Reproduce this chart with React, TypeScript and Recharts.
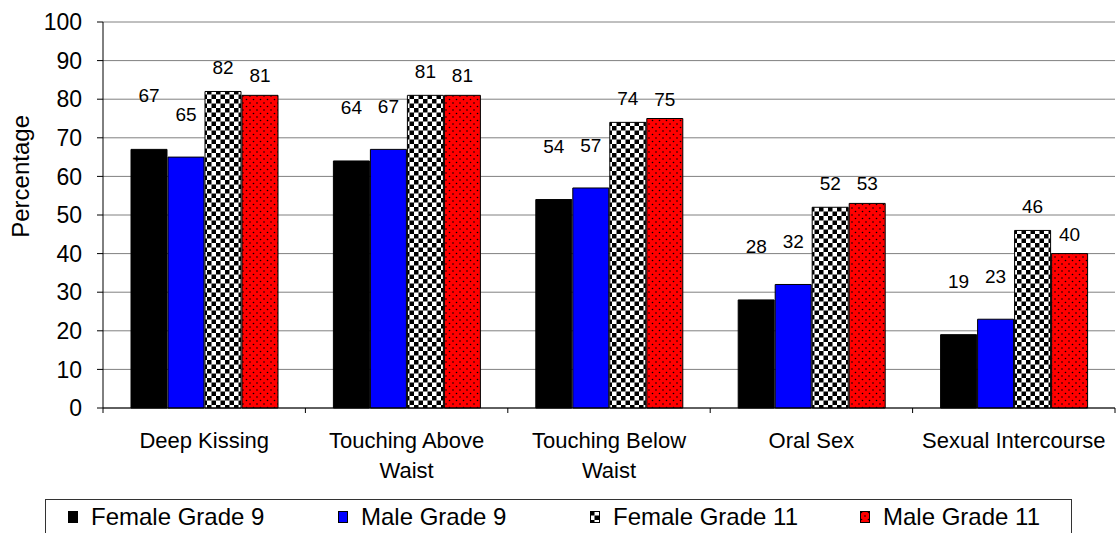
import { BarChart, Bar, XAxis, YAxis, CartesianGrid, LabelList } from "recharts";

const categories = [
  "Deep Kissing",
  "Touching Above Waist",
  "Touching Below Waist",
  "Oral Sex",
  "Sexual Intercourse",
];
const femaleGrade9 = [67, 64, 54, 28, 19];
const maleGrade9 = [65, 67, 57, 32, 23];
const femaleGrade11 = [82, 81, 74, 52, 46];
const maleGrade11 = [81, 81, 75, 53, 40];
const yTicks = [0, 10, 20, 30, 40, 50, 60, 70, 80, 90, 100];

const data = categories.map((name, i) => ({
  name,
  f9: femaleGrade9[i],
  m9: maleGrade9[i],
  f11: femaleGrade11[i],
  m11: maleGrade11[i],
}));

// labelGap: how far above the bar the value label sits (Excel placed them unevenly)
const series = [
  { key: "f9", name: "Female Grade 9", fill: "#000000", labelGap: 47 },
  { key: "m9", name: "Male Grade 9", fill: "#0000ff", labelGap: 36 },
  { key: "f11", name: "Female Grade 11", fill: "url(#checker)", labelGap: 17 },
  { key: "m11", name: "Male Grade 11", fill: "url(#reddots)", labelGap: 13 },
];

const FONT = "'Liberation Sans', Arial, sans-serif";
const legendWidths = [270, 252, 270, 200];

// split long category names onto two lines like Excel does
function wrapLabel(text: string) {
  if (text.length <= 18) return [text];
  const words = text.split(" ");
  const last = words.pop() as string;
  return [words.join(" "), last];
}

function CategoryTick(props: any) {
  const { x, y, payload, index, visibleTicksCount } = props;
  const half = payload.offset || 101.2;
  const lines = wrapLabel(String(payload.value));
  return (
    <g>
      <line x1={x - half} x2={x - half} y1={y} y2={y + 5} stroke="#000" />
      {index === visibleTicksCount - 1 && (
        <line x1={x + half} x2={x + half} y1={y} y2={y + 5} stroke="#000" />
      )}
      {lines.map((l, i) => (
        <text
          key={i}
          x={x}
          y={y + 40 + i * 30}
          textAnchor="middle"
          fontSize={22}
          fill="#000"
          fontFamily={FONT}
        >
          {l}
        </text>
      ))}
    </g>
  );
}

function PercentLabel(props: any) {
  const vb = props.viewBox || { x: 0, y: 22, height: 386 };
  const cx = vb.x + 21;
  const cy = vb.y + vb.height * 0.4;
  return (
    <text
      x={cx}
      y={cy}
      transform={`rotate(-90 ${cx} ${cy})`}
      textAnchor="middle"
      dominantBaseline="central"
      fontSize={24}
      fill="#000"
      fontFamily={FONT}
    >
      Percentage
    </text>
  );
}

function Swatch({ fill }: { fill: string }) {
  return (
    <svg width={10} height={12} style={{ display: "block" }}>
      <rect x={0.5} y={0.5} width={9} height={11} fill={fill} stroke="#000" />
    </svg>
  );
}

export default function App() {
  return (
    <div
      style={{
        position: "absolute",
        left: 0,
        top: 0,
        width: 1117,
        height: 533,
        overflow: "hidden",
        background: "#fff",
        fontFamily: FONT,
      }}
    >
      <BarChart
        width={1117}
        height={533}
        data={data}
        margin={{ top: 22, right: 2, left: 0, bottom: 45 }}
        barSize={36}
        barGap={1}
        style={{ fontFamily: FONT }}
      >
        <defs>
          <pattern id="checker" patternUnits="userSpaceOnUse" width={9} height={9}>
            <rect x={0} y={0} width={9} height={9} fill="#fff" />
            <rect x={0} y={0} width={4.5} height={4.5} fill="#000" />
            <rect x={4.5} y={4.5} width={4.5} height={4.5} fill="#000" />
          </pattern>
          <pattern id="reddots" patternUnits="userSpaceOnUse" width={7} height={7}>
            <rect x={0} y={0} width={7} height={7} fill="#ff0000" />
            <circle cx={1.5} cy={1.5} r={0.8} fill="#000" />
            <circle cx={5} cy={5} r={0.8} fill="#000" />
          </pattern>
        </defs>
        <CartesianGrid vertical={false} stroke="#808080" />
        <XAxis
          dataKey="name"
          height={80}
          interval={0}
          tickLine={false}
          tickSize={0}
          tickMargin={0}
          axisLine={{ stroke: "#000" }}
          tick={<CategoryTick />}
        />
        <YAxis
          width={103}
          domain={[0, 100]}
          ticks={yTicks}
          interval={0}
          tickSize={6}
          tickMargin={15}
          axisLine={{ stroke: "#000" }}
          tickLine={{ stroke: "#000" }}
          tick={{ fill: "#000", fontSize: 23, fontFamily: FONT }}
          label={<PercentLabel />}
        />
        {series.map((s) => (
          <Bar
            key={s.key}
            dataKey={s.key}
            name={s.name}
            fill={s.fill}
            stroke="#000"
            strokeWidth={1}
            isAnimationActive={false}
          >
            <LabelList
              dataKey={s.key}
              position="top"
              offset={s.labelGap}
              fill="#000"
              fontSize={19}
              fontFamily={FONT}
            />
          </Bar>
        ))}
      </BarChart>
      <div
        style={{
          position: "absolute",
          left: 45,
          top: 499,
          width: 1027,
          height: 50,
          border: "1px solid #333",
          boxSizing: "border-box",
          display: "flex",
          alignItems: "flex-start",
          paddingLeft: 22,
          paddingTop: 4,
          fontSize: 24,
          lineHeight: "26px",
          color: "#000",
        }}
      >
        {series.map((s, i) => (
          <div
            key={s.key}
            style={{
              width: legendWidths[i],
              height: 26,
              display: "flex",
              alignItems: "center",
              flexShrink: 0,
            }}
          >
            <Swatch fill={s.fill} />
            <span style={{ marginLeft: 13 }}>{s.name}</span>
          </div>
        ))}
      </div>
    </div>
  );
}
